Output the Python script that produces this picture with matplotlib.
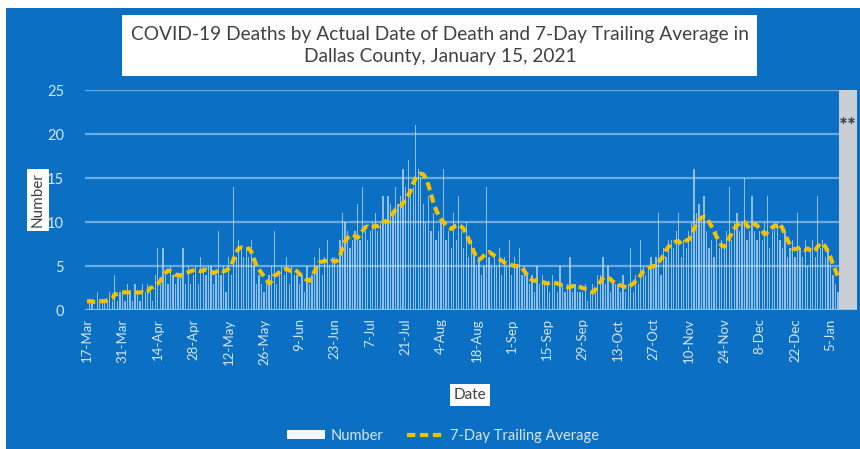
import matplotlib
matplotlib.use("Agg")
import matplotlib.pyplot as plt
import matplotlib.patches as mpatches
from matplotlib.lines import Line2D
import pandas as pd
import numpy as np

# ---------------- data ----------------
start_date = "2020-03-17"
counts = [
    0, 1, 1, 0, 2, 1, 1,
    1, 1, 2, 1, 4, 1, 2,
    2, 1, 3, 2, 1, 3, 2,
    1, 3, 2, 3, 2, 1, 4,
    7, 3, 7, 4, 3, 5, 4,
    3, 4, 4, 7, 3, 5, 3,
    4, 5, 3, 6, 5, 4, 5,
    5, 3, 4, 9, 4, 5, 2,
    6, 4, 14, 6, 8, 7, 6,
    7, 6, 8, 5, 3, 4, 3,
    2, 3, 4, 5, 9, 3, 4,
    5, 4, 6, 3, 5, 4, 4,
    3, 4, 2, 5, 3, 4, 6,
    5, 7, 4, 6, 8, 5, 6,
    6, 5, 8, 11, 10, 9, 7,
    8, 9, 12, 8, 14, 9, 8,
    9, 10, 11, 9, 10, 13, 10,
    13, 12, 11, 14, 12, 13, 16,
    14, 17, 13, 14, 21, 16, 15,
    12, 10, 13, 9, 11, 8, 9,
    10, 16, 8, 9, 7, 11, 8,
    13, 9, 7, 10, 6, 8, 7,
    5, 6, 4, 5, 14, 6, 5,
    6, 5, 7, 4, 6, 5, 8,
    4, 6, 5, 7, 4, 5, 4,
    3, 4, 2, 5, 3, 4, 3,
    3, 2, 4, 3, 2, 5, 3,
    2, 3, 6, 2, 3, 2, 2,
    2, 3, 1, 2, 3, 2, 4,
    4, 6, 3, 5, 2, 3, 3,
    3, 2, 4, 2, 3, 7, 2,
    4, 3, 8, 5, 4, 5, 6,
    5, 6, 11, 4, 7, 6, 8,
    8, 7, 9, 11, 6, 8, 7,
    9, 10, 16, 11, 12, 10, 13,
    9, 7, 8, 6, 9, 7, 8,
    7, 9, 14, 8, 10, 11, 9,
    10, 15, 8, 9, 13, 9, 8,
    9, 8, 10, 13, 7, 9, 10,
    10, 8, 7, 9, 6, 7, 8,
    6, 11, 7, 6, 8, 5, 7,
    8, 6, 13, 7, 8, 6, 7,
    5, 4, 3, 2,
]
avg7 = [
    1.0, 1.0, 1.0, 0.9, 0.9, 1.0, 1.0,
    1.0, 1.1, 1.2, 1.3, 1.8, 1.8, 1.9,
    2.0, 2.0, 2.0, 2.0, 1.9, 2.0, 2.0,
    2.0, 2.0, 1.9, 2.1, 2.5, 2.6, 2.8,
    3.0, 3.3, 3.8, 4.2, 4.5, 4.4, 4.3,
    4.0, 4.0, 3.9, 4.1, 4.2, 4.3, 4.4,
    4.5, 4.6, 4.5, 4.4, 4.5, 4.6, 4.5,
    4.4, 4.2, 4.3, 4.6, 4.5, 4.4, 4.5,
    4.7, 5.0, 5.8, 6.5, 7.0, 7.1, 7.0,
    6.9, 7.0, 6.6, 5.8, 5.0, 4.6, 4.2,
    3.8, 3.4, 3.0, 3.3, 3.9, 4.0, 4.3,
    4.5, 4.6, 4.7, 4.5, 4.4, 4.6, 4.4,
    4.1, 3.9, 3.6, 3.4, 3.3, 3.8, 4.4,
    5.0, 5.4, 5.5, 5.6, 5.5, 5.4, 5.6,
    5.5, 5.6, 6.2, 7.0, 7.8, 8.2, 8.4,
    8.6, 8.4, 8.2, 8.5, 9.0, 9.4, 9.5,
    9.3, 9.4, 9.6, 9.5, 9.7, 10.0, 10.1,
    10.0, 10.4, 11.0, 11.4, 11.6, 11.8, 12.2,
    12.5, 13.0, 13.6, 14.4, 15.0, 15.4, 15.5,
    15.4, 15.0, 14.2, 13.2, 12.2, 11.4, 10.8,
    10.3, 10.0, 9.6, 9.4, 9.2, 9.4, 9.6,
    9.7, 9.5, 9.2, 8.6, 8.0, 7.3, 6.6,
    6.0, 5.7, 5.9, 6.2, 6.5, 6.6, 6.4,
    6.2, 6.0, 5.8, 5.6, 5.4, 5.3, 5.2,
    5.1, 5.0, 5.0, 5.0, 4.8, 4.4, 4.0,
    3.6, 3.4, 3.3, 3.4, 3.3, 3.2, 3.1,
    3.0, 3.1, 3.2, 3.1, 3.0, 2.9, 2.8,
    2.7, 2.6, 2.6, 2.7, 2.8, 2.7, 2.6,
    2.5, 2.4, 2.3, 2.1, 2.0, 2.3, 2.8,
    3.2, 3.6, 3.8, 3.7, 3.5, 3.2, 3.0,
    3.0, 2.8, 2.7, 2.6, 2.5, 2.8, 3.0,
    3.3, 3.5, 4.0, 4.4, 4.6, 4.8, 4.9,
    5.0, 5.0, 5.4, 5.8, 6.2, 6.8, 7.2,
    7.5, 7.6, 7.8, 7.8, 7.5, 7.6, 7.9,
    8.0, 8.4, 9.2, 9.8, 10.2, 10.5, 10.6,
    10.5, 10.0, 9.5, 8.9, 8.3, 7.8, 7.3,
    7.2, 7.5, 8.2, 8.8, 9.3, 9.6, 9.8,
    10.0, 10.0, 9.6, 9.3, 9.5, 9.8, 9.6,
    9.2, 9.0, 8.6, 8.8, 9.2, 9.4, 9.6,
    9.5, 9.8, 9.3, 8.6, 8.0, 7.4, 7.0,
    6.9, 7.0, 7.1, 6.9, 6.8, 7.0, 6.8,
    6.6, 6.8, 7.2, 7.6, 7.5, 7.2, 6.6,
    6.0, 5.2, 4.5, 3.8,
]
tick_labels = ["17-Mar", "31-Mar", "14-Apr", "28-Apr", "12-May", "26-May",
               "9-Jun", "23-Jun", "7-Jul", "21-Jul", "4-Aug", "18-Aug",
               "1-Sep", "15-Sep", "29-Sep", "13-Oct", "27-Oct", "10-Nov",
               "24-Nov", "8-Dec", "22-Dec", "5-Jan"]
incomplete_start = "2021-01-08"
incomplete_end = "2021-01-15"
title = "COVID-19 Deaths by Actual Date of Death and 7-Day Trailing Average in\nDallas County, January 15, 2021"

# ---------------- figure ----------------
BLUE = "#0B6FC4"
TICKC = "#D6E6F6"
FONT = ["Lato", "DejaVu Sans"]
plt.rcParams["font.family"] = FONT

fig = plt.figure(figsize=(8.6, 4.49), dpi=100, facecolor="white")
fig.patches.append(mpatches.Rectangle((6 / 860, 0), 1, 1 - 8 / 449,
                                      transform=fig.transFigure,
                                      facecolor=BLUE, edgecolor="none", zorder=-5))

ax = fig.add_axes([85 / 860, 1 - 310 / 449, (857 - 85) / 860, (310 - 90) / 449])
ax.set_zorder(1)
ax.set_facecolor(BLUE)
for s in ax.spines.values():
    s.set_visible(False)

dates = pd.date_range(start_date, periods=len(counts), freq="D")
day = pd.Timedelta(days=1)

ax.axvspan(pd.Timestamp(incomplete_start) + 0.5 * day,
           pd.Timestamp(incomplete_end) + 0.5 * day,
           color="#C9CED4", zorder=1, lw=0)

ax.yaxis.grid(True, color="#6AAAE3", lw=1.6, zorder=0.5)
ax.set_axisbelow(True)

ax.bar(dates, counts, width=0.5, color="#CFE4F8", alpha=0.68, zorder=2, lw=0)
ax.plot(dates, avg7, color="#F2C200", lw=3.0, ls=(0, (2.0, 1.1)), zorder=3)
ax.axhline(0, color="#8FC0EC", lw=1.2, zorder=2.5)

ax.set_ylim(0, 25)
ax.set_yticks([0, 5, 10, 15, 20, 25])
ax.set_xlim(pd.Timestamp(start_date) - 0.8 * day,
            pd.Timestamp(incomplete_end) + 0.5 * day)
tick_dates = pd.date_range(start_date, periods=len(tick_labels), freq="14D")
ax.set_xticks(tick_dates)
ax.set_xticklabels(tick_labels, rotation=90, fontsize=9.5, color=TICKC)
ax.tick_params(axis="y", colors=TICKC, labelsize=10.5, length=0, pad=15)
ax.tick_params(axis="x", length=0, pad=6)

ax.text(pd.Timestamp("2021-01-12"), 20.8, "**", ha="center", va="center",
        fontsize=15, fontweight="bold", color="#3A3A3A", zorder=4)

# title box
fig.patches.append(mpatches.Rectangle((122 / 860, 1 - 76 / 449), (757 - 122) / 860, 61 / 449,
                                      transform=fig.transFigure,
                                      facecolor="white", edgecolor="none", zorder=1))
fig.text(440 / 860, 1 - 45.5 / 449, title, ha="center", va="center",
         fontsize=13.8, color="#404040", linespacing=1.4, zorder=2)

# axis labels in white boxes
fig.text(38 / 860, 1 - 200 / 449, "Number", rotation=90, ha="center", va="center",
         fontsize=11, color="#404040",
         bbox=dict(boxstyle="square,pad=0.25", facecolor="white", edgecolor="none"))
fig.text(470 / 860, 1 - 395 / 449, "Date", ha="center", va="center",
         fontsize=11, color="#404040",
         bbox=dict(boxstyle="square,pad=0.25", facecolor="white", edgecolor="none"))

# legend
handles = [mpatches.Patch(facecolor="#F2F7FC", edgecolor="none", label="Number"),
           Line2D([], [], color="#F2C200", lw=3.0, ls=(0, (2.0, 1.1)),
                  label="7-Day Trailing Average")]
leg = fig.legend(handles=handles, loc="center", bbox_to_anchor=(443 / 860, 1 - 436 / 449),
                 ncol=2, frameon=False, fontsize=10.5, handlelength=2.6,
                 handleheight=0.6, columnspacing=1.6, handletextpad=0.4)
for t in leg.get_texts():
    t.set_color(TICKC)

fig.savefig("out.png", dpi=100, facecolor="white")
